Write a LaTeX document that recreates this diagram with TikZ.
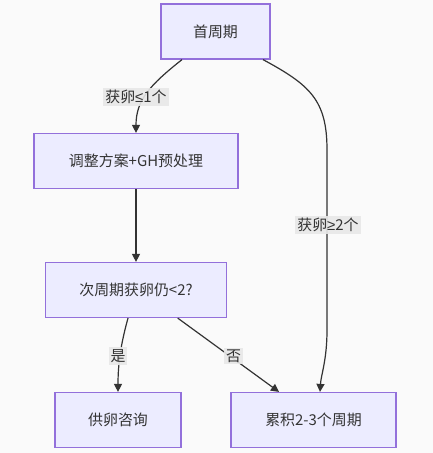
\documentclass[tikz,border=0pt]{standalone}
\usepackage{fontspec}
\setmainfont{Noto Sans CJK SC}
\newfontfamily\symfont{Liberation Sans}
\usetikzlibrary{arrows.meta,calc}
\definecolor{bg}{HTML}{FAFAFA}
\definecolor{boxfill}{HTML}{ECECFF}
\definecolor{boxdraw}{HTML}{9370DB}
\definecolor{edgecol}{HTML}{333333}
\definecolor{lblfill}{HTML}{E8E8E8}
\tikzset{
  box/.style={draw=boxdraw, fill=boxfill, line width=1.2bp, minimum height=55bp, inner sep=0pt, text=edgecol, font=\fontsize{15}{18}\selectfont},
  edge/.style={draw=edgecol, line width=1.2bp, -{Triangle[length=8bp,width=8bp]}},
  lbl/.style={fill=lblfill, fill opacity=0.9, text opacity=1, text=edgecol, inner sep=2bp, font=\fontsize{15}{18}\selectfont}
}
\begin{document}
\begin{tikzpicture}[x=1bp,y=-1bp]
\fill[bg] (0,0) rectangle (433,453);
\useasboundingbox (0,0) rectangle (433,453);
\node[box, minimum width=109bp] (A) at (215.5,31.5) {首周期};
\node[box, minimum width=204bp] (B) at (136,161) {调整方案+GH预处理};
\node[box, minimum width=181bp] (C) at (136,290) {次周期获卵仍<2?};
\node[box, minimum width=126bp] (D) at (118,420) {供卵咨询};
\node[box, minimum width=165bp] (E) at (313.5,420) {累积2-3个周期};
\draw[edge] ([xshift=-33.5bp]A.south) .. controls (150,85) and (136,100) .. (B.north);
\draw[edge] ([xshift=47.5bp]A.south) .. controls (310,85) and (327,100) .. (327,150) -- (327,330) .. controls (327,360) and (321,375) .. ([xshift=6.5bp]E.north);
\draw[edge] (B.south) -- (C.north);
\draw[edge] ([xshift=-8bp]C.south) .. controls (122,340) and (118,360) .. (D.north);
\draw[edge] ([xshift=41.7bp]C.south) -- ([xshift=-34.5bp]E.north);
\node[lbl] (l1) at (136,97) {获卵{\symfont ≤}1个};
\node[lbl] (l2) at (328,225) {获卵{\symfont ≥}2个};
\node[lbl] (l3) at (118,356) {是};
\node[lbl] (l4) at (233.7,356) {否};
\end{tikzpicture}
\end{document}
